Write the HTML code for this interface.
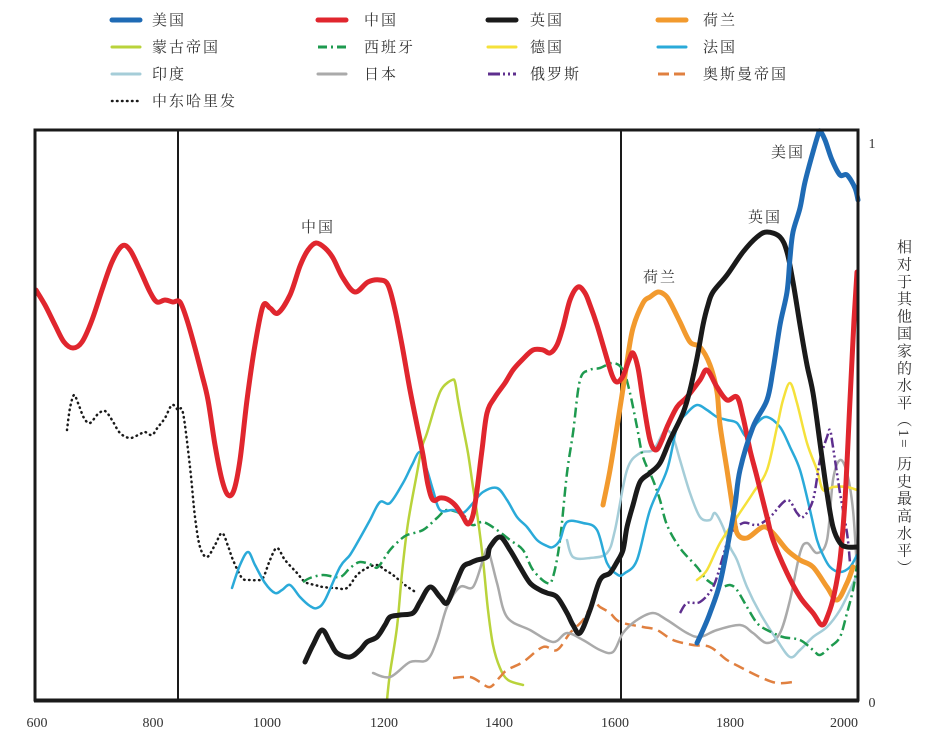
<!DOCTYPE html>
<html><head><meta charset="utf-8"><style>
html,body{margin:0;padding:0;background:#fff;}
#w{position:relative;width:940px;height:754px;overflow:hidden;background:#fff;}
svg{position:absolute;left:0;top:0;}
.t{font-family:"Liberation Serif","Noto Serif CJK SC",serif;fill:#333;}
.lg{font-family:"Liberation Serif","Noto Serif CJK SC",serif;font-size:15px;fill:#333;letter-spacing:2px;}
#vl{position:absolute;left:893px;top:239px;writing-mode:vertical-rl;text-orientation:mixed;font-family:"Liberation Serif","Noto Serif CJK SC",serif;font-size:15px;letter-spacing:2.3px;color:#333;line-height:20px;}
</style></head><body><div id="w">
<svg width="940" height="754" viewBox="0 0 940 754" xmlns="http://www.w3.org/2000/svg">
<g fill="none" stroke-linecap="round">
<line x1="112" y1="20" x2="140" y2="20" stroke="#1f6bb5" stroke-width="5"/>
<line x1="318" y1="20" x2="346" y2="20" stroke="#e0262e" stroke-width="5"/>
<line x1="488" y1="20" x2="516" y2="20" stroke="#1a1a1a" stroke-width="5"/>
<line x1="658" y1="20" x2="686" y2="20" stroke="#f29a2e" stroke-width="5"/>
<line x1="112" y1="47" x2="140" y2="47" stroke="#b9d33b" stroke-width="3"/>
<line x1="318" y1="47" x2="346" y2="47" stroke="#1e9a4f" stroke-width="3" stroke-dasharray="9,4,2,4" stroke-linecap="butt"/>
<line x1="488" y1="47" x2="516" y2="47" stroke="#f5e13a" stroke-width="3"/>
<line x1="658" y1="47" x2="686" y2="47" stroke="#2aaad9" stroke-width="3"/>
<line x1="112" y1="74" x2="140" y2="74" stroke="#a5cdd8" stroke-width="3"/>
<line x1="318" y1="74" x2="346" y2="74" stroke="#aaaaaa" stroke-width="3"/>
<line x1="488" y1="74" x2="516" y2="74" stroke="#5e2f8e" stroke-width="3" stroke-dasharray="12,3,2,3,2,3" stroke-linecap="butt"/>
<line x1="658" y1="74" x2="686" y2="74" stroke="#e08040" stroke-width="3" stroke-dasharray="11,5" stroke-linecap="butt"/>
<line x1="112" y1="101" x2="140" y2="101" stroke="#1a1a1a" stroke-width="2.5" stroke-dasharray="0.5,4.5"/>
</g>
<g class="lg">
<text x="152" y="25">美国</text><text x="364" y="25">中国</text><text x="530" y="25">英国</text><text x="703" y="25">荷兰</text>
<text x="152" y="52">蒙古帝国</text><text x="364" y="52">西班牙</text><text x="530" y="52">德国</text><text x="703" y="52">法国</text>
<text x="152" y="79">印度</text><text x="364" y="79">日本</text><text x="530" y="79">俄罗斯</text><text x="703" y="79">奥斯曼帝国</text>
<text x="152" y="106">中东哈里发</text>
</g>

<line x1="178" y1="130" x2="178" y2="700" stroke="#1a1a1a" stroke-width="2"/>
<line x1="621" y1="130" x2="621" y2="700" stroke="#1a1a1a" stroke-width="2"/>

<g id="series" fill="none" stroke-linejoin="round" stroke-linecap="round">
<polyline stroke="#1a1a1a" stroke-width="2.5" stroke-dasharray="0.5,4.5" points="67,430 70,408 74,395 78,403 84,418 90,423 98,414 105,411 112,420 120,433 130,438 140,434 145,432 152,435 158,427 165,418 172,405 178,410 183,413 190,467 195,517 200,547 207,557 215,545 222,533 228,546 233,560 242,578 250,580 257,580 263,578 270,560 277,548 285,560 297,573 305,582 315,585 323,587 335,588 347,588 357,575 367,568 377,565 385,570 393,575 405,585 417,593"/>
<polyline stroke="#b9d33b" stroke-width="2.5" points="387,700 390,673 397,627 402,573 408,523 417,473 422,447 427,433 437,400 443,387 452,380 455,382 458,400 463,427 468,453 473,487 478,520 483,560 488,610 493,645 500,668 508,680 523,685"/>
<polyline stroke="#e08040" stroke-width="2.5" stroke-dasharray="11,6" stroke-linecap="butt" points="453,678 470,677 480,682 490,687 500,677 507,670 523,662 543,647 557,650 570,633 583,620 593,603 600,607 610,613 620,622 643,627 657,630 673,640 693,645 710,647 727,660 740,667 760,677 777,683 793,682"/>
<polyline stroke="#aaaaaa" stroke-width="2.5" points="373,673 390,677 410,662 427,660 437,640 447,607 460,587 473,587 483,560 488,550 497,583 507,617 530,630 553,642 567,633 583,640 600,650 613,652 623,633 637,620 653,613 667,620 687,633 700,637 717,630 740,625 753,633 767,643 780,633 790,600 800,553 807,543 817,553 827,540 833,480 840,460 847,473 853,510 857,570"/>
<polyline stroke="#a5cdd8" stroke-width="2.5" points="567,540 573,557 590,558 607,553 615,530 627,470 640,453 653,450 663,433 667,430 673,437 680,460 690,493 700,517 710,520 715,513 723,527 730,547 737,560 747,587 760,613 777,640 790,657 800,650 813,637 827,627 840,610 850,590 857,575"/>
<polyline stroke="#1e9a4f" stroke-width="2.5" stroke-dasharray="10,4,2,4" stroke-linecap="butt" points="303,582 310,578 323,575 340,577 350,568 360,562 372,565 378,567 390,550 400,540 407,535 423,530 437,518 447,510 463,515 472,525 483,522 497,530 510,540 523,550 533,570 547,583 553,577 560,540 567,473 573,433 580,380 590,370 600,368 613,363 623,370 630,393 637,427 643,457 653,480 660,500 667,525 680,548 697,567 707,580 720,587 730,585 737,590 747,607 757,623 767,630 783,637 800,640 813,650 820,655 830,647 840,637 847,613 853,590 857,565"/>
<polyline stroke="#2aaad9" stroke-width="2.5" points="232,588 240,565 248,552 255,565 265,583 275,593 282,590 290,585 300,597 310,606 317,608 325,600 340,567 350,555 360,538 370,520 380,502 390,503 403,483 412,465 420,452 427,470 433,490 440,510 453,510 463,513 473,503 483,492 497,488 507,500 517,517 527,527 537,540 547,546 553,547 560,540 567,522 583,523 597,530 607,563 618,575 625,573 637,560 650,510 667,470 677,427 687,413 697,405 707,410 717,417 727,420 737,423 747,437 757,423 767,417 780,427 790,447 800,470 810,510 817,540 823,555 830,567 840,572 850,567 857,555"/>
<polyline stroke="#f5e13a" stroke-width="2.5" points="697,580 707,570 720,543 737,517 753,493 767,470 777,427 783,400 790,383 797,403 807,443 817,470 823,490 833,487 847,487 857,490"/>
<polyline stroke="#5e2f8e" stroke-width="2.5" stroke-dasharray="10,3,2,3,2,3" stroke-linecap="butt" points="680,613 687,603 700,602 713,587 722,560 730,535 743,523 757,525 770,517 787,500 797,513 803,517 813,500 820,460 827,437 830,430 833,447 840,493 847,533 850,563"/>
<polyline stroke="#f29a2e" stroke-width="5" points="603,505 610,470 617,427 622,395 627,362 633,328 643,303 650,297 658,292 665,295 670,302 680,322 690,342 700,347 710,365 717,392 720,425 727,470 733,510 737,533 747,538 763,527 773,533 787,550 800,560 813,567 827,587 837,600 847,583 853,567"/>
<polyline stroke="#e0262e" stroke-width="5" points="36,290 45,305 55,325 64,342 73,348 82,342 92,320 102,290 112,262 122,246 130,250 140,270 150,292 157,302 165,300 173,302 180,302 187,320 195,348 202,375 208,400 215,445 222,480 228,495 234,490 240,460 247,400 255,345 263,306 270,308 278,313 290,295 300,266 308,250 316,243 325,248 333,258 343,278 355,292 368,282 380,280 388,285 395,310 402,345 410,390 418,430 423,455 428,485 433,500 440,498 447,499 455,505 462,515 468,524 473,515 477,490 482,450 487,413 495,397 505,383 513,370 522,360 533,350 543,350 550,353 557,345 563,327 570,300 578,287 585,293 590,305 597,325 605,352 612,375 617,382 623,376 629,360 633,353 638,368 643,400 650,440 656,450 662,440 667,427 677,407 687,397 700,380 707,370 717,387 727,400 737,397 743,417 750,450 757,477 767,517 773,540 787,573 800,597 813,613 822,625 828,615 834,595 840,560 845,500 850,400 854,320 857,272"/>
<polyline stroke="#1a1a1a" stroke-width="5" points="305,662 313,645 322,630 330,642 337,653 350,657 360,650 367,642 377,637 385,625 390,617 400,615 413,613 420,602 430,587 440,597 447,603 455,585 463,567 470,563 477,560 487,557 490,547 500,537 510,550 520,567 530,583 540,590 547,593 557,597 567,613 573,625 580,633 590,610 600,580 610,573 617,562 623,550 627,527 633,505 640,482 650,473 660,463 670,440 683,413 690,390 697,358 703,325 708,305 713,292 727,275 743,252 757,237 767,232 780,237 787,252 793,282 800,325 807,365 813,393 820,443 827,493 833,527 840,543 847,547 857,547"/>
<polyline stroke="#1f6bb5" stroke-width="5" points="697,643 703,630 710,613 720,583 730,533 735,505 740,470 753,427 767,400 773,370 780,325 787,292 790,258 793,232 800,208 805,182 813,152 818,135 820,131 825,140 832,160 840,175 847,175 855,188 858,200"/>
</g>

<rect x="35" y="130" width="823" height="570" fill="none" stroke="#1a1a1a" stroke-width="3"/>
<line x1="34" y1="700.5" x2="859" y2="700.5" stroke="#1a1a1a" stroke-width="4"/>

<g class="lg">
<text x="301" y="232">中国</text>
<text x="643" y="282">荷兰</text>
<text x="748" y="222">英国</text>
<text x="771" y="157">美国</text>
</g>

<g class="t" font-size="14" text-anchor="middle">
<text x="37" y="727">600</text>
<text x="153" y="727">800</text>
<text x="267" y="727">1000</text>
<text x="384" y="727">1200</text>
<text x="499" y="727">1400</text>
<text x="615" y="727">1600</text>
<text x="730" y="727">1800</text>
<text x="844" y="727">2000</text>
<text x="872" y="148">1</text>
<text x="872" y="707">0</text>
</g>
</svg>
<div id="vl">相对于其他国家的水平（1= 历史最高水平）</div>
</div>
<script>
(function(){
var ns="http://www.w3.org/2000/svg";
var pls=document.querySelectorAll("#series polyline");
for(var k=0;k<pls.length;k++){
 var pl=pls[k];
 var raw=pl.getAttribute("points").trim().split(/\s+/);
 var p=[];
 for(var i=0;i<raw.length;i++){var a=raw[i].split(",");p.push([+a[0],+a[1]]);}
 var d="M"+p[0][0]+","+p[0][1];
 var t=0.5/3;
 for(var i=0;i<p.length-1;i++){
  var p0=p[i>0?i-1:i],p1=p[i],p2=p[i+1],p3=p[i+2<p.length?i+2:i+1];
  var c1x=p1[0]+(p2[0]-p0[0])*t,c1y=p1[1]+(p2[1]-p0[1])*t;
  var c2x=p2[0]-(p3[0]-p1[0])*t,c2y=p2[1]-(p3[1]-p1[1])*t;
  d+=" C"+c1x.toFixed(1)+","+c1y.toFixed(1)+" "+c2x.toFixed(1)+","+c2y.toFixed(1)+" "+p2[0]+","+p2[1];
 }
 var path=document.createElementNS(ns,"path");
 for(var j=0;j<pl.attributes.length;j++){var at=pl.attributes[j];if(at.name!=="points")path.setAttribute(at.name,at.value);}
 path.setAttribute("d",d);
 pl.parentNode.replaceChild(path,pl);
}
})();
</script>
</body></html>
